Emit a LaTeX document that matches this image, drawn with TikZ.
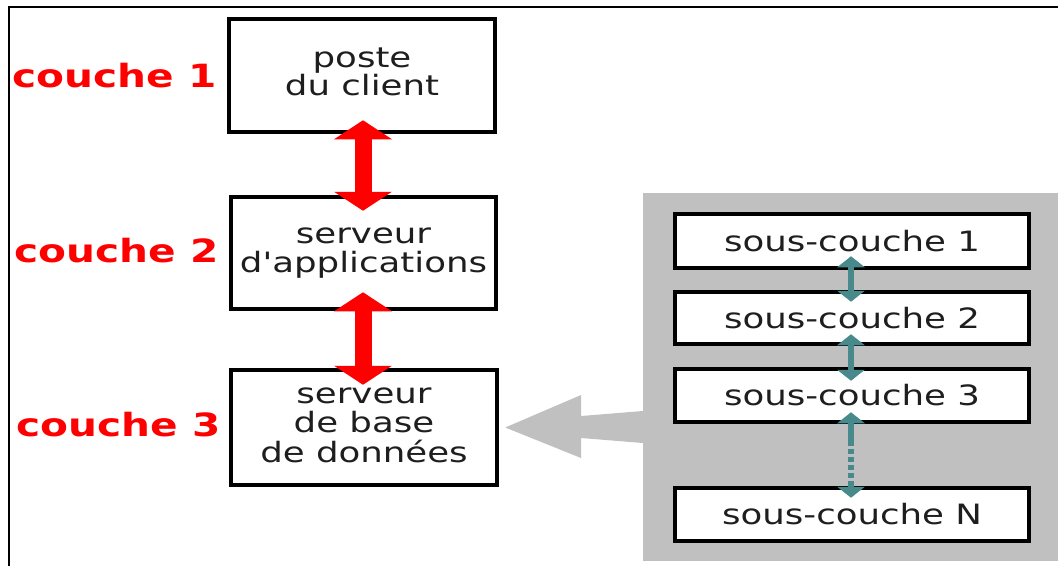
\documentclass[tikz,border=0pt]{standalone}
\usepackage{fontspec}
\usepackage{graphicx}
\setmainfont{DejaVu Sans}[Ligatures=TeXOff]
\usetikzlibrary{arrows.meta}
\definecolor{panelgray}{RGB}{192,192,192}
\definecolor{tealarr}{RGB}{72,138,140}
\definecolor{txt}{RGB}{30,30,30}
\newcommand{\sx}[1]{\scalebox{1.27}[1]{#1}}
\newcommand{\ml}[2][0pt]{\raisebox{#1}{\sx{\begin{tabular}{@{}c@{}}#2\end{tabular}}}}
\begin{document}
\begin{tikzpicture}[x=1pt,y=-1pt,
  boxn/.style={draw=black,line width=4.5pt,fill=white,inner sep=0pt,text=txt,
    font=\fontsize{28}{25.5}\selectfont},
  subn/.style={boxn,minimum width=354pt},
  lab/.style={text=red,inner sep=0pt,anchor=base east,
    font=\fontsize{32}{36}\selectfont\bfseries},
  redarr/.style={red,line width=17pt,
    {Triangle[width=57pt,length=19pt]}-{Triangle[width=57pt,length=19pt]}},
  tealarrow/.style={tealarr,line width=6pt,
    {Triangle[width=27pt,length=11pt]}-{Triangle[width=27pt,length=11pt]}},
  panel/.style={fill=panelgray,inner sep=0pt}
]
\useasboundingbox (0,0) rectangle (1058,566);
% outer frame
\draw[line width=2.8pt] (9,566) -- (9,7) -- (1058,7);
% left column boxes
\node[boxn,minimum width=266pt,minimum height=113pt] (b1) at (362,75.5)
  {\ml[-4pt]{poste\\du client}};
\node[boxn,minimum width=265pt,minimum height=112pt] (b2) at (363.5,253)
  {\ml[-3pt]{serveur\\d'applications}};
\node[boxn,minimum width=266pt,minimum height=115pt] (b3) at (364,427.5)
  {\ml[-1pt]{serveur\\de base\\de données}};
% labels
\node[lab] (l1) at (217,87) {\sx{couche 1}};
\node[lab] (l2) at (219,262) {\sx{couche 2}};
\node[lab] (l3) at (221,436) {\sx{couche 3}};
% red arrows
\draw[redarr] ([shift={(1,-14)}]b1.south) -- ([shift={(-0.5,16)}]b2.north);
\draw[redarr] ([shift={(-0.5,-19)}]b2.south) -- ([shift={(-1,17)}]b3.north);
% panel
\node[panel,minimum width=415pt,minimum height=368pt] (panel) at (850.5,377) {};
% big gray arrow
\fill[panelgray] (panel.west |- 0,411) -- (581,416) -- (581,395)
  -- ([shift={(6,0)}]b3.east) -- (581,458) -- (581,438) -- (panel.west |- 0,443) -- cycle;
% sub boxes
\node[subn,minimum height=54pt] (s1) at (852,241) {\sx{sous-couche 1}};
\node[subn,minimum height=52pt] (s2) at (852,318) {\sx{sous-couche 2}};
\node[subn,minimum height=53pt] (s3) at (852,395.5) {\sx{sous-couche 3}};
\node[subn,minimum height=53pt] (sN) at (852,514.5) {\sx{sous-couche N}};
% teal arrows
\draw[tealarrow] ([shift={(-1,-14)}]s1.south) -- ([shift={(-1,12)}]s2.north);
\draw[tealarrow] ([shift={(-1,-12)}]s2.south) -- ([shift={(-1,14)}]s3.north);
\draw[tealarrow,dash pattern=on 23pt off 3pt on 5pt off 3pt on 5pt off 3pt on 5pt off 3pt on 5pt off 3pt on 40pt]
  ([shift={(-1,-12)}]s3.south) -- ([shift={(-1,12)}]sN.north);
\end{tikzpicture}
\end{document}
